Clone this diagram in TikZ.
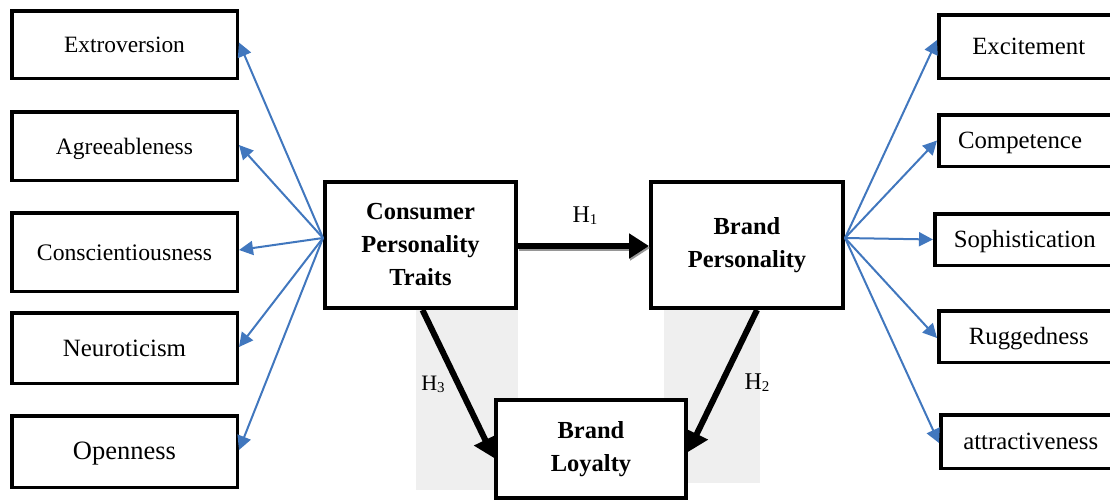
\documentclass[tikz,border=0pt]{standalone}
\usepackage{fontspec}
\setmainfont{Liberation Serif}
\usetikzlibrary{arrows.meta}
\definecolor{bluearr}{RGB}{65,119,190}
\definecolor{shadebg}{RGB}{239,239,239}
\definecolor{shadowgray}{RGB}{150,150,150}
\newcommand{\hsub}[1]{{\fontsize{15}{15}\selectfont\raisebox{-2pt}{#1}}}
\begin{document}
\begin{tikzpicture}[x=1pt,y=-1pt,
  leftbox/.style={draw, line width=3.5pt, fill=white, inner sep=0pt, minimum width=225.5pt, text height=21.5pt, text depth=5.5pt},
  rightbox/.style={draw, line width=3.5pt, fill=white, inner sep=0pt, minimum width=180pt, text height=21.5pt, text depth=5.5pt, font=\fontsize{24.8}{28}\selectfont},
  corebox/.style={draw, line width=4pt, fill=white, inner sep=0pt, align=center, font=\fontsize{24.5}{33}\selectfont\bfseries},
  bluearrow/.style={draw=bluearr, line width=2pt, -{Triangle[length=14pt,width=14pt,fill=bluearr]}},
  bigarrow/.style={line width=6pt, -{Triangle[length=20pt,width=24pt]}},
  shadowarrow/.style={draw=shadowgray, line width=6pt, -{Triangle[length=20pt,width=24pt,fill=shadowgray]}},
  hlabel/.style={inner sep=0pt, font=\fontsize{24}{26}\selectfont}
]
\useasboundingbox (0,0) rectangle (1110,501);
\clip (0,0) rectangle (1110,501);

% background shading behind H3 and H2
\fill[shadebg] (416,310) rectangle (518,490);
\fill[shadebg] (664,310) rectangle (760,483);

% left boxes
\node[leftbox, minimum height=67.5pt, font=\fontsize{23.4}{28}\selectfont] (ext) at (124.5,44.5) {Extroversion};
\node[leftbox, minimum height=68.5pt, font=\fontsize{23.5}{28}\selectfont] (agr) at (124.5,146) {Agreeableness};
\node[leftbox, minimum height=78.5pt, font=\fontsize{23.7}{28}\selectfont] (con) at (124.5,252) {Conscientiousness};
\node[leftbox, minimum height=70.5pt, font=\fontsize{24.9}{28}\selectfont] (neu) at (124.5,348) {Neuroticism};
\node[leftbox, minimum height=71.5pt, font=\fontsize{26.5}{28}\selectfont] (ope) at (124.5,451.5) {Openness};

% right boxes (cut by the right edge)
\node[rightbox, minimum height=63.5pt] (exc) at (1028.75,46.5) {Excitement};
\node[rightbox, minimum height=51.5pt] (com) at (1028.75,140.5) {Competence\hspace*{17.5pt}};
\node[rightbox, minimum height=51.5pt] (sop) at (1024.75,239.5) {Sophistication};
\node[rightbox, minimum height=51.5pt] (rug) at (1028.75,336.5) {Ruggedness};
\node[rightbox, minimum height=53.5pt] (att) at (1030.75,441.5) {attractiveness};

% core boxes
\node[corebox, minimum width=191pt, minimum height=126pt] (cpt) at (420.5,245) {Consumer\\Personality\\Traits};
\node[corebox, minimum width=192pt, minimum height=126pt] (bp) at (747,245) {Brand\\Personality};
\node[corebox, minimum width=190pt, minimum height=98pt] (bl) at (591,449) {Brand\\Loyalty};

% fan-out arrows
\coordinate (lsrc) at ([yshift=7pt]cpt.west);
\coordinate (rsrc) at ([yshift=7pt]bp.east);
\draw[bluearrow] (lsrc) -- ([yshift=2pt]ext.east);
\draw[bluearrow] (lsrc) -- ([yshift=1pt]agr.east);
\draw[bluearrow] (lsrc) -- ([yshift=2pt]con.east);
\draw[bluearrow] (lsrc) -- ([yshift=1pt]neu.east);
\draw[bluearrow] (lsrc) -- ([yshift=1.5pt]ope.east);
\draw[bluearrow] (rsrc) -- ([yshift=6.5pt]exc.west);
\draw[bluearrow] (rsrc) -- (com.west);
\draw[bluearrow] (rsrc) -- (sop.west);
\draw[bluearrow] (rsrc) -- ([yshift=-1.5pt]rug.west);
\draw[bluearrow] (rsrc) -- ([yshift=-1.5pt]att.west);

% hypotheses
\draw[shadowarrow] ([shift={(1pt,-3pt)}]cpt.east) -- ([shift={(1pt,-3pt)}]bp.west);
\draw[bigarrow] ([yshift=-1pt]cpt.east) -- ([yshift=-1pt]bp.west);
\draw[bigarrow] ([xshift=2pt]cpt.south) -- ([yshift=-9pt]bl.west);
\draw[bigarrow] ([xshift=10pt]bp.south) -- ([yshift=-3pt]bl.east);

\node[hlabel] (h1) at (585,216) {H\hsub{1}};
\node[hlabel, font=\fontsize{22}{24}\selectfont] (h3) at (433,384) {H\hsub{3}};
\node[hlabel] (h2) at (757,383) {H\hsub{2}};
\end{tikzpicture}
\end{document}
